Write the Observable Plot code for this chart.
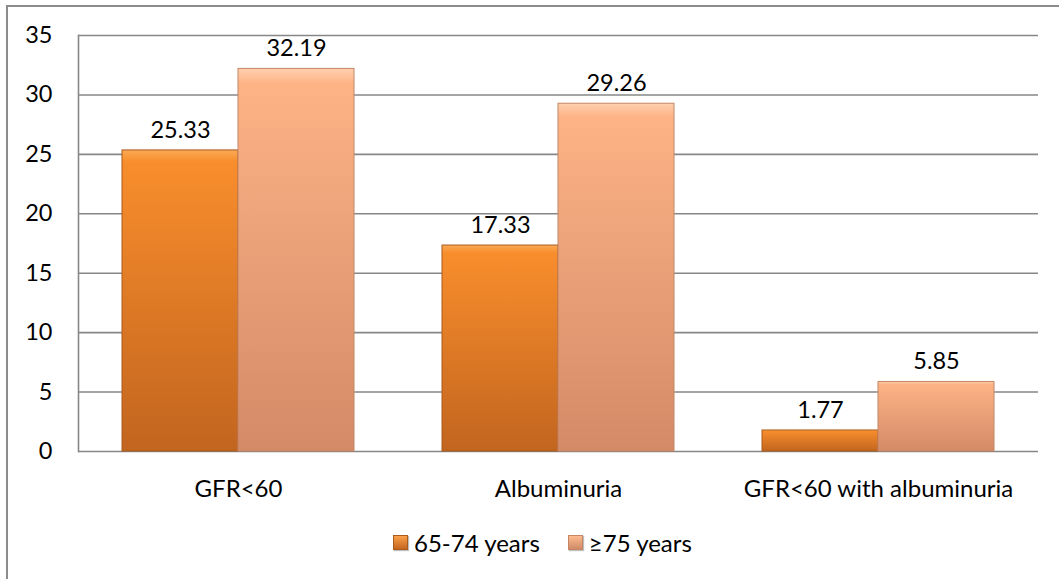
<!DOCTYPE html>
<html><head><meta charset="utf-8">
<script src="https://cdn.jsdelivr.net/npm/d3@7"></script>
<script src="https://cdn.jsdelivr.net/npm/@observablehq/plot@0.6"></script>
<style>
body{margin:0;background:#fff;font-family:Lato,"Open Sans",sans-serif;}
#wrap{position:relative;width:1059px;height:579px;overflow:hidden;background:#fff;}
#border{position:absolute;left:6px;top:5px;width:1200px;height:700px;border-left:2px solid #8c8c8c;border-top:2px solid #8c8c8c;}
#chart{position:absolute;left:0;top:0;}
#legend{position:absolute;top:528px;left:393px;display:flex;align-items:center;font-size:24px;color:#000;white-space:nowrap;}
.sw{width:15px;height:15px;display:inline-block;margin-right:6px;box-sizing:border-box;box-shadow:1px 1px 1px rgba(0,0,0,0.25);}
.item{display:flex;align-items:center;margin-right:28px;}
</style></head>
<body><div id="wrap"><div id="border"></div><div id="chart"></div><div id="legend"></div></div>
<script>
const categories = ["GFR<60", "Albuminuria", "GFR<60 with albuminuria"];
const seriesNames = ["65-74 years", "≥75 years"];
const values6574 = [25.33, 17.33, 1.77];
const values75 = [32.19, 29.26, 5.85];
const yTicks = [0, 5, 10, 15, 20, 25, 30, 35];
const seriesFills = ["url(#gradA)", "url(#gradB)"];
const seriesStrokes = ["#a95b1c", "#c48664"];
const swatchCss = ["linear-gradient(#fba04a,#c4661f)", "linear-gradient(#fdbb90,#cf8b66)"];

const data = categories.flatMap((c, i) => [
  {cat: c, series: seriesNames[0], value: values6574[i]},
  {cat: c, series: seriesNames[1], value: values75[i]}
]);

const barMarks = seriesNames.map((s, k) =>
  Plot.barY(data.filter(d => d.series === s), {
    fx: "cat", x: "series", y: "value",
    fill: seriesFills[k], stroke: seriesStrokes[k], strokeWidth: 1,
    style: {filter: "drop-shadow(1px 2px 2px rgba(0,0,0,0.25))"}
  })
);

const chart = Plot.plot({
  width: 1059, height: 520,
  marginLeft: 77, marginRight: 20, marginTop: 35, marginBottom: 69,
  style: {fontFamily: "Lato, 'Open Sans', sans-serif", fontSize: "23px", color: "#000", background: "transparent"},
  fx: {domain: categories, padding: 0, label: null},
  x: {domain: seriesNames, paddingInner: 0, paddingOuter: 0.37, axis: null},
  y: {domain: [0, 35], axis: null, label: null},
  marks: [
    Plot.gridY(yTicks, {stroke: "#878787", strokeOpacity: 1, strokeWidth: 1.6}),
    Plot.frame({anchor: "left", facetAnchor: "left", stroke: "#878787", strokeWidth: 1.6}),
    ...barMarks,
    Plot.text(data, {fx: "cat", x: "series", y: "value", text: d => d.value.toFixed(2), dy: -20, fontSize: 23.5, fill: "#000"}),
    Plot.axisY(yTicks, {tickSize: 0, tickPadding: 26, fontSize: 23.5, fill: "#000", label: null}),
    Plot.axisFx({anchor: "bottom", tickSize: 0, tickPadding: 28, fontSize: 24, fill: "#000", label: null})
  ]
});

const defs = d3.select(chart).insert("defs", ":first-child");
const gA = defs.append("linearGradient").attr("id", "gradA").attr("x1", 0).attr("y1", 0).attr("x2", 0).attr("y2", 1);
gA.append("stop").attr("offset", "0%").attr("stop-color", "#fbaa55");
gA.append("stop").attr("offset", "4%").attr("stop-color", "#f88d2c");
gA.append("stop").attr("offset", "100%").attr("stop-color", "#c2651f");
const gB = defs.append("linearGradient").attr("id", "gradB").attr("x1", 0).attr("y1", 0).attr("x2", 0).attr("y2", 1);
gB.append("stop").attr("offset", "0%").attr("stop-color", "#fed0b0");
gB.append("stop").attr("offset", "4%").attr("stop-color", "#fdb385");
gB.append("stop").attr("offset", "100%").attr("stop-color", "#d48a67");

document.getElementById("chart").appendChild(chart);

const legend = d3.select("#legend");
seriesNames.forEach((s, k) => {
  const it = legend.append("div").attr("class", "item");
  it.append("span").attr("class", "sw").style("background", swatchCss[k]).style("border", "1px solid " + seriesStrokes[k]);
  it.append("span").text(s);
});
</script></body></html>
